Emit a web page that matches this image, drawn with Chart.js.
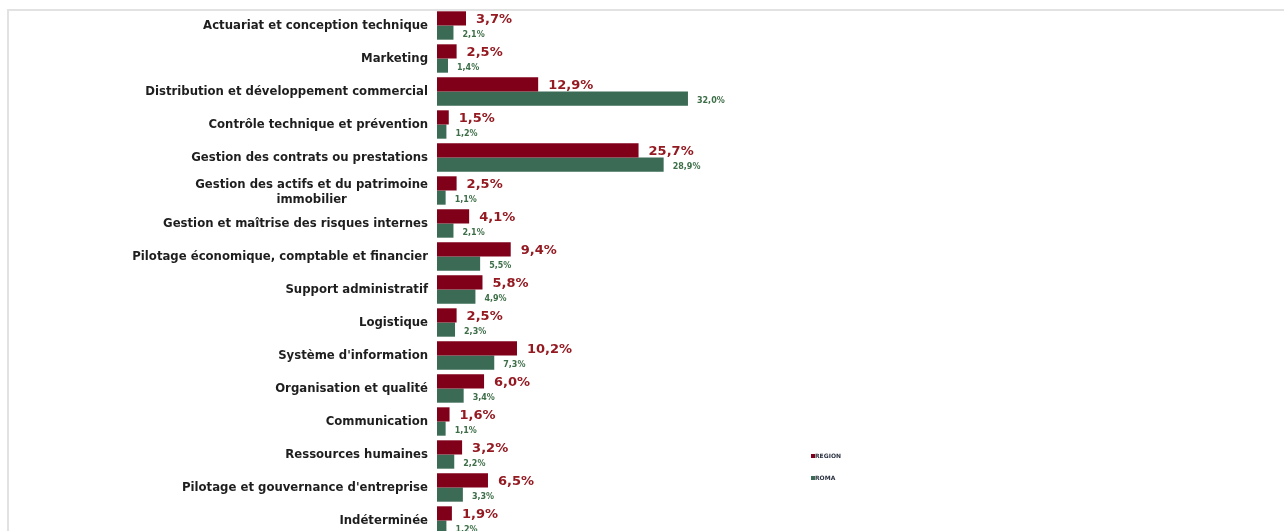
<!DOCTYPE html>
<html>
<head>
<meta charset="utf-8">
<script src="https://cdn.jsdelivr.net/npm/chart.js@4.4.1/dist/chart.umd.min.js"></script>
<style>
  html, body { margin: 0; padding: 0; background: #ffffff; overflow: hidden; width: 1284px; height: 531px; }
  #frame { position: absolute; left: 7px; top: 9px; width: 1290px; height: 540px; border-top: 2px solid #e2e2e2; border-left: 2px solid #e2e2e2; }
  #wrap { position: absolute; left: 0; top: 0; width: 1284px; height: 540px; }
</style>
</head>
<body>
<div id="frame"></div>
<div id="wrap"><canvas id="c"></canvas></div>
<script>
const categories = [
  "Actuariat et conception technique",
  "Marketing",
  "Distribution et développement commercial",
  "Contrôle technique et prévention",
  "Gestion des contrats ou prestations",
  ["Gestion des actifs et du patrimoine", "immobilier"],
  "Gestion et maîtrise des risques internes",
  "Pilotage économique, comptable et financier",
  "Support administratif",
  "Logistique",
  "Système d'information",
  "Organisation et qualité",
  "Communication",
  "Ressources humaines",
  "Pilotage et gouvernance d'entreprise",
  "Indéterminée"
];
const regionValues = [3.7, 2.5, 12.9, 1.5, 25.7, 2.5, 4.1, 9.4, 5.8, 2.5, 10.2, 6.0, 1.6, 3.2, 6.5, 1.9];
const romaValues   = [2.1, 1.4, 32.0, 1.2, 28.9, 1.1, 2.1, 5.5, 4.9, 2.3, 7.3, 3.4, 1.1, 2.2, 3.3, 1.2];
const seriesNames = ["REGION", "ROMA"];
const seriesColors = ["#800019", "#3b6b55"];
const labelColors = ["#941a22", "#3d6e47"];

function fmt(v) { return v.toFixed(1).replace('.', ',') + '%'; }

const FONT = '"DejaVu Sans", Verdana, sans-serif';

const drawPlugin = {
  id: 'drawPlugin',
  afterDatasetsDraw(chart) {
    const ctx = chart.ctx;
    const yScale = chart.scales.y;
    const area = chart.chartArea;
    ctx.save();
    // category labels
    ctx.fillStyle = '#1e1e1e';
    ctx.font = 'bold 11.7px ' + FONT;
    ctx.textBaseline = 'middle';
    categories.forEach((cat, i) => {
      const y = yScale.getPixelForValue(i);
      const right = area.left - 9;
      if (Array.isArray(cat)) {
        const widths = cat.map(t => ctx.measureText(t).width);
        const maxW = Math.max(...widths);
        const cx = right - maxW / 2;
        const lh = 15;
        ctx.textAlign = 'center';
        cat.forEach((t, k) => {
          ctx.fillText(t, cx, y + 2 + (k - (cat.length - 1) / 2) * lh);
        });
      } else {
        ctx.textAlign = 'right';
        ctx.fillText(cat, right, y);
      }
    });
    // value labels
    ctx.textAlign = 'left';
    chart.data.datasets.forEach((ds, di) => {
      const meta = chart.getDatasetMeta(di);
      ctx.fillStyle = labelColors[di];
      ctx.font = di === 0 ? 'bold 13px ' + FONT : 'bold 8px ' + FONT;
      meta.data.forEach((bar, i) => {
        const p = bar.getProps(['x', 'y'], true);
        const dx = di === 0 ? 10 : 9;
        const dy = di === 0 ? 1 : 2;
        ctx.fillText(fmt(ds.data[i]), p.x + dx, p.y + dy);
      });
    });
    // legend
    ctx.font = 'bold 6px ' + FONT;
    ctx.textBaseline = 'middle';
    const legY = [456, 478];
    seriesNames.forEach((n, i) => {
      ctx.fillStyle = seriesColors[i];
      ctx.fillRect(811, legY[i] - 2, 4, 4);
      ctx.fillStyle = '#2a3140';
      ctx.fillText(n, 815, legY[i]);
    });
    ctx.restore();
  }
};

new Chart(document.getElementById('c'), {
  type: 'bar',
  data: {
    labels: categories,
    datasets: [
      { label: seriesNames[0], data: regionValues, backgroundColor: seriesColors[0], barPercentage: 1, categoryPercentage: 0.86 },
      { label: seriesNames[1], data: romaValues, backgroundColor: seriesColors[1], barPercentage: 1, categoryPercentage: 0.86 }
    ]
  },
  options: {
    indexAxis: 'y',
    responsive: true,
    maintainAspectRatio: false,
    animation: false,
    layout: { padding: { left: 437, right: 0, top: 9, bottom: 3 } },
    plugins: { legend: { display: false }, tooltip: { enabled: false } },
    scales: {
      x: { display: false, min: 0, max: 108 },
      y: { display: false, grid: { display: false } }
    }
  },
  plugins: [drawPlugin]
});
</script>
</body>
</html>
